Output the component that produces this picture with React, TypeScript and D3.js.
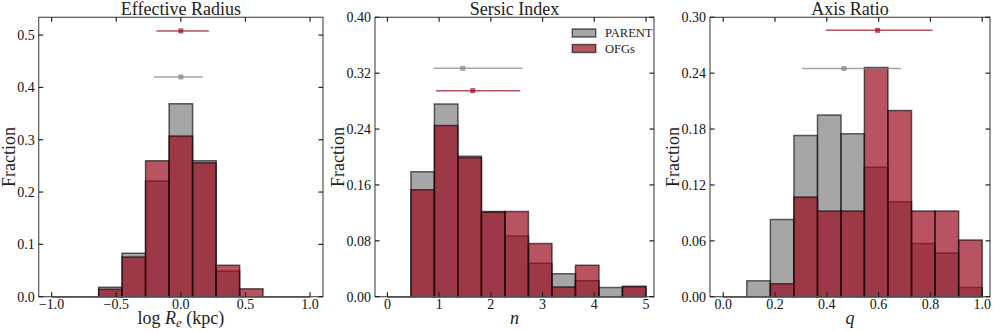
import React, { useRef, useEffect } from 'react';
import * as d3 from 'd3';

// bin edges (11 bins each)
const radiusEdges = [-1.0, -0.818, -0.636, -0.455, -0.273, -0.091, 0.091, 0.273, 0.455, 0.636, 0.818, 1.0];
const sersicEdges = [0, 0.455, 0.909, 1.364, 1.818, 2.273, 2.727, 3.182, 3.636, 4.091, 4.545, 5.0];
const qEdges = [0, 0.091, 0.182, 0.273, 0.364, 0.455, 0.545, 0.636, 0.727, 0.818, 0.909, 1.0];

// fractions per bin
const radiusParent = [0, 0, 0.018, 0.083, 0.221, 0.369, 0.26, 0.049, 0, 0, 0];
const radiusOFG = [0, 0, 0.014, 0.076, 0.26, 0.307, 0.256, 0.06, 0.015, 0, 0];
const sersicParent = [0, 0.179, 0.276, 0.201, 0.122, 0.087, 0.048, 0.033, 0.023, 0.013, 0.014];
const sersicOFG = [0, 0.153, 0.245, 0.199, 0.121, 0.122, 0.076, 0.014, 0.045, 0, 0.015];
const qParent = [0, 0.017, 0.083, 0.173, 0.195, 0.175, 0.139, 0.102, 0.057, 0.047, 0.01];
const qOFG = [0, 0, 0.014, 0.107, 0.092, 0.092, 0.246, 0.2, 0.092, 0.092, 0.061];

// median markers: [x, lo, hi, y]
const radiusParentMed = [0.0, -0.208, 0.171, 0.42];
const radiusOFGMed = [0.0, -0.19, 0.217, 0.508];
const sersicParentMed = [1.456, 0.896, 2.616, 0.327];
const sersicOFGMed = [1.65, 0.94, 2.57, 0.295];
const qParentMed = [0.466, 0.305, 0.686, 0.245];
const qOFGMed = [0.596, 0.396, 0.808, 0.286];

const radiusXTicks = [-1.0, -0.5, 0.0, 0.5, 1.0];
const radiusYTicks = [0, 0.1, 0.2, 0.3, 0.4, 0.5];
const sersicXTicks = [0, 1, 2, 3, 4, 5];
const sersicYTicks = [0, 0.08, 0.16, 0.24, 0.32, 0.4];
const qXTicks = [0, 0.2, 0.4, 0.6, 0.8, 1.0];
const qYTicks = [0, 0.06, 0.12, 0.18, 0.24, 0.3];

const legendLabels = ['PARENT', 'OFGs'];

const PARENT_COLOR = '#808080';
const OFG_COLOR = '#9a0a20';
const FONT = '"Liberation Serif", "Times New Roman", serif';

const panels = [
  {
    title: 'Effective Radius', left: 38.7, right: 323, xDomain: [-1.1, 1.1], yMax: 0.534, ylabelOff: 24,
    edges: radiusEdges, parent: radiusParent, ofg: radiusOFG,
    parentMed: radiusParentMed, ofgMed: radiusOFGMed,
    xTicks: radiusXTicks, yTicks: radiusYTicks, xFmt: '.1f', yFmt: '.1f', xlabel: 'logRe', legend: false,
  },
  {
    title: 'Sersic Index', left: 375, right: 654, xDomain: [-0.24, 5.155], yMax: 0.4, ylabelOff: 31,
    edges: sersicEdges, parent: sersicParent, ofg: sersicOFG,
    parentMed: sersicParentMed, ofgMed: sersicOFGMed,
    xTicks: sersicXTicks, yTicks: sersicYTicks, xFmt: 'd', yFmt: '.2f', xlabel: 'n', legend: true,
  },
  {
    title: 'Axis Ratio', left: 710, right: 990, xDomain: [-0.051, 1.03], yMax: 0.3, ylabelOff: 31,
    edges: qEdges, parent: qParent, ofg: qOFG,
    parentMed: qParentMed, ofgMed: qOFGMed,
    xTicks: qXTicks, yTicks: qYTicks, xFmt: '.1f', yFmt: '.2f', xlabel: 'q', legend: false,
  },
];

const top = 17.3;
const bottom = 296.7;

const fmt = (f, v) => d3.format(f)(v).replace('-', '\u2212');

const Chart = () => {
  const svgRef = useRef();

  useEffect(() => {
    const svg = d3.select(svgRef.current);
    svg.selectAll('*').remove();

    panels.forEach(p => {
      const x = d3.scaleLinear().domain(p.xDomain).range([p.left, p.right]);
      const y = d3.scaleLinear().domain([0, p.yMax]).range([bottom, top]);
      const g = svg.append('g');

      const barPath = (v, i) => {
        const x0 = x(p.edges[i]);
        const x1 = x(p.edges[i + 1]);
        return `M${x0},${y(0)}V${y(v)}H${x1}V${y(0)}Z`;
      };

      // histograms: parent first, OFGs on top
      [[p.parent, PARENT_COLOR], [p.ofg, OFG_COLOR]].forEach(([vals, col]) => {
        g.append('g')
          .selectAll('path')
          .data(vals)
          .enter()
          .append('path')
          .attr('d', (d, i) => barPath(d, i))
          .attr('fill', col)
          .attr('fill-opacity', 0.7)
          .attr('stroke', '#000')
          .attr('stroke-opacity', 0.6)
          .attr('stroke-width', 1.5);
      });

      // medians with ranges
      [[p.parentMed, PARENT_COLOR], [p.ofgMed, OFG_COLOR]].forEach(([m, col]) => {
        g.append('line')
          .attr('x1', x(m[1])).attr('x2', x(m[2]))
          .attr('y1', y(m[3])).attr('y2', y(m[3]))
          .attr('stroke', col).attr('stroke-opacity', 0.7).attr('stroke-width', 1.5);
        g.append('rect')
          .attr('x', x(m[0]) - 2.5).attr('y', y(m[3]) - 2.5)
          .attr('width', 5).attr('height', 5)
          .attr('fill', col).attr('fill-opacity', 0.7);
      });

      // frame
      g.append('rect')
        .attr('x', p.left).attr('y', top)
        .attr('width', p.right - p.left).attr('height', bottom - top)
        .attr('fill', 'none').attr('stroke', '#555').attr('stroke-width', 1.2);

      // inward ticks on all four sides
      const tl = 4.5;
      p.xTicks.forEach(t => {
        g.append('line').attr('x1', x(t)).attr('x2', x(t)).attr('y1', bottom).attr('y2', bottom - tl)
          .attr('stroke', '#222').attr('stroke-width', 1.2);
        g.append('line').attr('x1', x(t)).attr('x2', x(t)).attr('y1', top).attr('y2', top + tl)
          .attr('stroke', '#222').attr('stroke-width', 1.2);
        g.append('text').attr('x', x(t)).attr('y', bottom + 12)
          .attr('text-anchor', 'middle').attr('font-family', FONT).attr('font-size', 14)
          .attr('fill', '#111').text(fmt(p.xFmt, t));
      });
      p.yTicks.forEach(t => {
        g.append('line').attr('x1', p.left).attr('x2', p.left + tl).attr('y1', y(t)).attr('y2', y(t))
          .attr('stroke', '#222').attr('stroke-width', 1.2);
        g.append('line').attr('x1', p.right).attr('x2', p.right - tl).attr('y1', y(t)).attr('y2', y(t))
          .attr('stroke', '#222').attr('stroke-width', 1.2);
        g.append('text').attr('x', p.left - 4).attr('y', y(t) + 5)
          .attr('text-anchor', 'end').attr('font-family', FONT).attr('font-size', 14)
          .attr('fill', '#111').text(fmt(p.yFmt, t));
      });

      // title
      g.append('text').attr('x', (p.left + p.right) / 2).attr('y', 15)
        .attr('text-anchor', 'middle').attr('font-family', FONT).attr('font-size', 18)
        .attr('fill', '#222').text(p.title);

      // y label
      g.append('text')
        .attr('transform', `translate(${p.left - p.ylabelOff},${(top + bottom) / 2}) rotate(-90)`)
        .attr('text-anchor', 'middle').attr('font-family', FONT).attr('font-size', 18)
        .attr('fill', '#222').text('Fraction');

      // x label
      const xl = g.append('text').attr('x', (p.left + p.right) / 2).attr('y', 324)
        .attr('text-anchor', 'middle').attr('font-family', FONT).attr('font-size', 18).attr('fill', '#222');
      if (p.xlabel === 'logRe') {
        xl.append('tspan').text('log ');
        xl.append('tspan').attr('font-style', 'italic').text('R');
        xl.append('tspan').attr('font-style', 'italic').attr('font-size', 13).attr('dy', 3).text('e');
        xl.append('tspan').attr('dy', -3).text(' (kpc)');
      } else {
        xl.attr('font-style', 'italic').text(p.xlabel);
      }

      if (p.legend) {
        [PARENT_COLOR, OFG_COLOR].forEach((col, i) => {
          g.append('rect')
            .attr('x', 572.3).attr('y', 29 + i * 15.5)
            .attr('width', 23.4).attr('height', 8)
            .attr('fill', col).attr('fill-opacity', 0.7)
            .attr('stroke', '#000').attr('stroke-opacity', 0.6).attr('stroke-width', 1.5);
          g.append('text').attr('x', 605).attr('y', 37 + i * 15.5)
            .attr('font-family', FONT).attr('font-size', 12.5).attr('fill', '#222')
            .text(legendLabels[i]);
        });
      }
    });
  }, []);

  return <svg ref={svgRef} width={996} height={332} style={{ display: 'block' }}></svg>;
};

export default function App() {
  return (
    <div style={{ position: 'absolute', left: 0, top: 0 }}>
      <Chart />
    </div>
  );
}
